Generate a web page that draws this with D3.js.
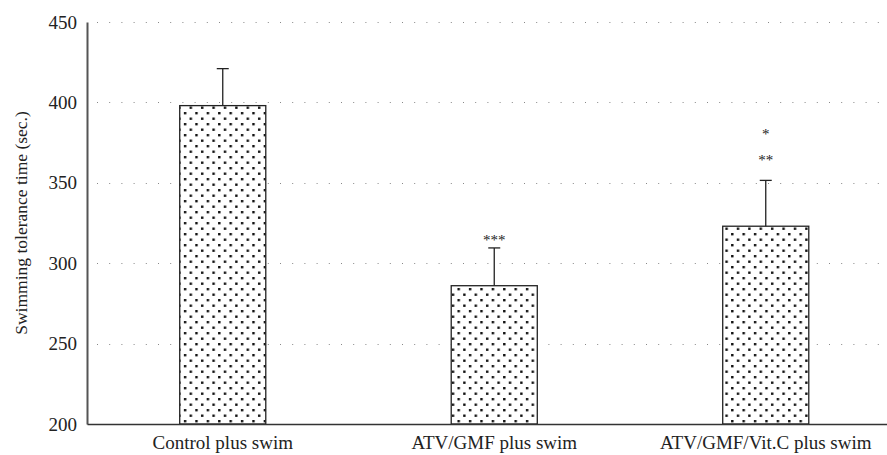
<!DOCTYPE html>
<html>
<head>
<meta charset="utf-8">
<script src="https://cdn.jsdelivr.net/npm/d3@7"></script>
<style>
  body { margin: 0; background: #fff; }
  svg { display: block; font-family: "Liberation Serif", "DejaVu Serif", serif; }
</style>
</head>
<body>
<div id="chart"></div>
<script>
// groups and their mean / error values
var groups  = ['Control plus swim', 'ATV/GMF plus swim', 'ATV/GMF/Vit.C plus swim'];
var means   = [398, 286, 323];
var errors  = [23, 23.5, 28.5];
// significance marks: text and the value where each sits
var stars   = [[], [['***', 316]], [['**', 366], ['*', 382]]];
var y_ticks = [200, 250, 300, 350, 400, 450];

var width  = 887;
var height = 455;
var left   = 87;
var top_y  = 22;
var bottom = 424;

var data = groups.map(function(g, i) {
	return { group: g, mean: means[i], err: errors[i], stars: stars[i] };
});

var x_scale = d3.scaleBand()
				.domain(groups)
				.range([left, left + 3 * 271.5])
				.paddingInner(0.683)
				.paddingOuter(0.3415);
var y_scale = d3.scaleLinear()
				.domain([200, 450])
				.range([bottom, top_y]);

var svg = d3.select('#chart')
			.append('svg')
			.attr('width', width)
			.attr('height', height);

// dotted fill pattern
var pat = svg.append('defs').append('pattern')
			 .attr('id', 'dots')
			 .attr('patternUnits', 'userSpaceOnUse')
			 .attr('width', 11.4)
			 .attr('height', 11)
			 .attr('x', 0.5)
			 .attr('y', 1);
pat.append('rect').attr('width', 11.4).attr('height', 11).attr('fill', '#fff');
pat.append('rect').attr('x', 1).attr('y', 1).attr('width', 2.4).attr('height', 2.4).attr('fill', '#111');
pat.append('rect').attr('x', 6.7).attr('y', 6.5).attr('width', 2.4).attr('height', 2.4).attr('fill', '#111');

// grid lines
svg.append('g')
   .selectAll('line')
   .data(y_ticks.slice(1))
   .join('line')
   .attr('x1', left + 10)
   .attr('x2', width)
   .attr('y1', function(d) { return Math.round(y_scale(d)) + 0.5; })
   .attr('y2', function(d) { return Math.round(y_scale(d)) + 0.5; })
   .attr('stroke', '#888')
   .attr('stroke-width', 1)
   .attr('stroke-dasharray', '1,11.2');

// bars
svg.append('g')
   .selectAll('rect')
   .data(data)
   .join('rect')
   .attr('x', function(d) { return x_scale(d.group); })
   .attr('y', function(d) { return y_scale(d.mean); })
   .attr('width', x_scale.bandwidth())
   .attr('height', function(d) { return bottom - y_scale(d.mean); })
   .attr('fill', 'url(#dots)')
   .attr('stroke', '#222')
   .attr('stroke-width', 1.3);

// error bars
var eb = svg.append('g')
			.attr('stroke', '#222')
			.attr('stroke-width', 1.3);
eb.selectAll('.v')
  .data(data)
  .join('line')
  .attr('x1', function(d) { return x_scale(d.group) + x_scale.bandwidth() / 2; })
  .attr('x2', function(d) { return x_scale(d.group) + x_scale.bandwidth() / 2; })
  .attr('y1', function(d) { return y_scale(d.mean); })
  .attr('y2', function(d) { return y_scale(d.mean + d.err); });
eb.selectAll('.h')
  .data(data)
  .join('line')
  .attr('x1', function(d) { return x_scale(d.group) + x_scale.bandwidth() / 2 - 6; })
  .attr('x2', function(d) { return x_scale(d.group) + x_scale.bandwidth() / 2 + 6; })
  .attr('y1', function(d) { return y_scale(d.mean + d.err); })
  .attr('y2', function(d) { return y_scale(d.mean + d.err); });

// significance stars
data.forEach(function(d) {
	d.stars.forEach(function(s) {
		svg.append('text')
		   .attr('x', x_scale(d.group) + x_scale.bandwidth() / 2)
		   .attr('y', y_scale(s[1]) + 8)
		   .attr('text-anchor', 'middle')
		   .attr('font-size', 15)
		   .attr('fill', '#222')
		   .text(s[0]);
	});
});

// axes
var y_axis = d3.axisLeft(y_scale).tickValues(y_ticks).tickSize(0).tickPadding(10);
var gy = svg.append('g')
			.attr('transform', 'translate(' + left + ',0)')
			.call(y_axis);
gy.select('.domain').attr('stroke', '#555').attr('stroke-width', 2);
gy.selectAll('text').attr('font-size', 19).attr('font-family', '"Liberation Serif", serif').attr('fill', '#222');

var x_axis = d3.axisBottom(x_scale).tickSize(0).tickPadding(12);
var gx = svg.append('g')
			.attr('transform', 'translate(0,' + bottom + ')')
			.call(x_axis);
gx.select('.domain').attr('stroke', '#333').attr('stroke-width', 1.5);
gx.selectAll('text').attr('font-size', 19).attr('font-family', '"Liberation Serif", serif').attr('fill', '#222');

// y axis title
svg.append('text')
   .attr('transform', 'translate(27,' + (top_y + bottom) / 2 + ') rotate(-90)')
   .attr('text-anchor', 'middle')
   .attr('font-size', 17.5)
   .attr('fill', '#222')
   .text('Swimming tolerance time (sec.)');
</script>
</body>
</html>
